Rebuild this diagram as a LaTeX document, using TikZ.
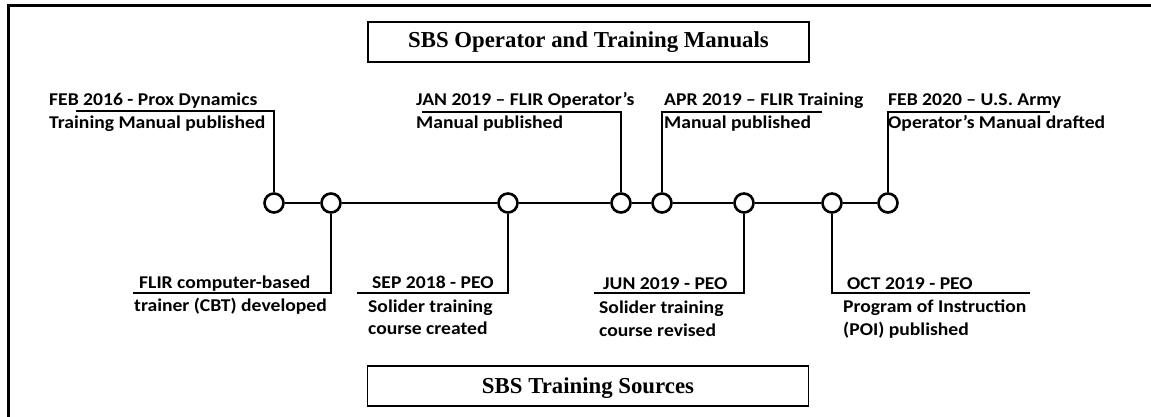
\documentclass[tikz,border=0pt]{standalone}
\usepackage{fontspec}
\newfontfamily\labfont{Carlito}[FakeStretch=1.09]
\newfontfamily\ttlfont{Liberation Serif}
\begin{document}
\begin{tikzpicture}[x=1pt,y=-1pt,
  dot/.style={circle,draw,line width=2.6pt,fill=white,minimum size=19pt,inner sep=0pt},
  conn/.style={line width=2.6pt},
  lab/.style={anchor=base west,inner sep=0pt,font=\labfont\bfseries\fontsize{18}{22}\selectfont},
  titlebox/.style={draw,line width=1.6pt,minimum width=441pt,minimum height=40pt,inner sep=0pt},
  ttl/.style={anchor=base,inner sep=0pt,font=\ttlfont\bfseries\fontsize{22.8}{26}\selectfont}]
\useasboundingbox (0,0) rectangle (1151,417);
% frame (top and left edges visible)
\draw[line width=3pt] (8,417) -- (8,6) -- (1151,6);
% title boxes
\node[titlebox] (tb1) at (588.5,42) {};
\node[ttl] (tt1) at (588.5,48) {SBS Operator and Training Manuals};
\node[titlebox] (tb2) at (588,386) {};
\node[ttl] (tt2) at (588,393) {SBS Training Sources};
% timeline dots
\node[dot] (c1) at (274,203) {};
\node[dot] (c2) at (331,203) {};
\node[dot] (c3) at (508,203) {};
\node[dot] (c4) at (621,203) {};
\node[dot] (c5) at (662,203) {};
\node[dot] (c6) at (744,203) {};
\node[dot] (c7) at (832,203) {};
\node[dot] (c8) at (888,203) {};
\draw[conn] (c1) -- (c2) -- (c3) -- (c4) -- (c5) -- (c6) -- (c7) -- (c8);
% elbow end points
\coordinate (e1) at (76,111);
\coordinate (e4) at (422,112);
\coordinate (e5) at (822,112);
\coordinate (e8) at (1050,112);
\coordinate (e2) at (133,293);
\coordinate (e3) at (357,293);
\coordinate (e6) at (594,293);
\coordinate (e7) at (1030,293);
\draw[conn] (c1.north) |- (e1);
\draw[conn] (c4.north) |- (e4);
\draw[conn] (c5.north) |- (e5);
\draw[conn] (c8.north) |- (e8);
\draw[conn] (c2.south) |- (e2);
\draw[conn] (c3.south) |- (e3);
\draw[conn] (c6.south) |- (e6);
\draw[conn] (c7.south) |- (e7);
% labels above
\node[lab] (l1a) at (49,106) {FEB 2016 - Prox Dynamics};
\node[lab] (l1b) at (49,129) {Training Manual published};
\node[lab] (l4a) at (416,106) {JAN 2019 – FLIR Operator’s};
\node[lab] (l4b) at (416,129) {Manual published};
\node[lab] (l5a) at (664,106) {APR 2019 – FLIR Training};
\node[lab] (l5b) at (664,129) {Manual published};
\node[lab] (l8a) at (888,106) {FEB 2020 – U.S. Army};
\node[lab] (l8b) at (888,129) {Operator’s Manual drafted};
% labels below
\node[lab] (l2a) at (139,288) {FLIR computer-based};
\node[lab] (l2b) at (134,311) {trainer (CBT) developed};
\node[lab] (l3a) at (372,288) {SEP 2018 - PEO};
\node[lab] (l3b) at (368,312) {Solider training};
\node[lab] (l3c) at (368,334) {course created};
\node[lab] (l6a) at (603,289) {JUN 2019 - PEO};
\node[lab] (l6b) at (599,313) {Solider training};
\node[lab] (l6c) at (599,336) {course revised};
\node[lab] (l7a) at (847,289) {OCT 2019 - PEO};
\node[lab] (l7b) at (843,312) {Program of Instruction};
\node[lab] (l7c) at (843,335) {(POI) published};
\end{tikzpicture}
\end{document}
